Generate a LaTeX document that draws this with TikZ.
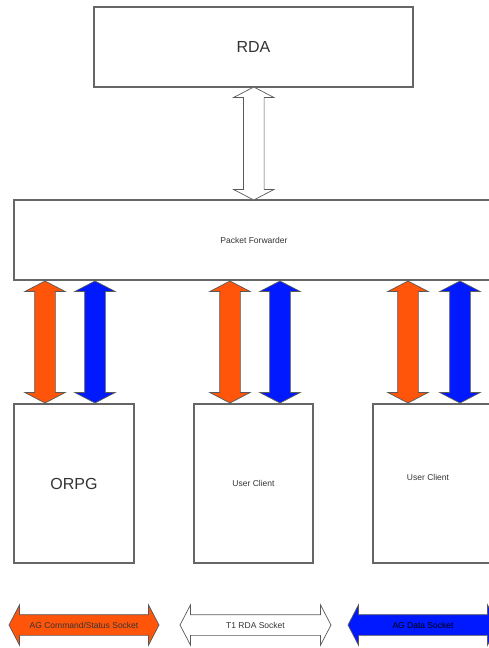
\documentclass[tikz,border=0pt]{standalone}
\usepackage{fontspec}
\setmainfont{Liberation Sans}
\usetikzlibrary{shapes.arrows,calc}

\definecolor{agorange}{RGB}{255,85,10}
\definecolor{agblue}{RGB}{0,25,255}

\tikzset{
  box/.style={draw=black!60, line width=1.2pt, fill=white, inner sep=0pt, text=black!80},
  bigtext/.style={font=\fontsize{16}{18}\selectfont},
  smalltext/.style={font=\fontsize{8.5}{10}\selectfont, text=black!80},
  sock/.style={double arrow, draw=black!65, line width=0.7pt, inner sep=0pt, inner ysep=10pt,
    minimum width=0pt, double arrow head extend=10pt, double arrow tip angle=125}
}

\begin{document}
\begin{tikzpicture}[x=1pt,y=-1pt]
\useasboundingbox (0,0) rectangle (489,648);
\clip (0,0) rectangle (489,648);

% RDA and forwarder
\node[box, bigtext, minimum width=319pt, minimum height=80pt] (rda) at (253.5,47) {RDA};
\node[box, smalltext, minimum width=480pt, minimum height=80pt] (pf) at (254,240) {Packet Forwarder};
\node[sock, fill=white, rotate=90, minimum height=113pt] (rdalink) at ($(rda.south)!0.5!(pf.north)$) {};

% Clients
\node[box, bigtext, minimum width=120pt, minimum height=159pt] (orpg) at (74,483.5) {ORPG};
\node[box, smalltext, minimum width=119pt, minimum height=159pt] (uca) at (253.5,483.5) {User Client};
\node[box, minimum width=120pt, minimum height=159pt] (ucb) at (433,483.5) {};
\node[smalltext] (ucbtext) at (428,477) {User Client};

% Sockets to the forwarder
\node[sock, fill=agorange, rotate=90, minimum height=122pt] (cmda) at (45,342) {};
\node[sock, fill=agblue, rotate=90, minimum height=122pt] (dataa) at (95,342) {};
\node[sock, fill=agorange, rotate=90, minimum height=122pt] (cmdb) at (230,342) {};
\node[sock, fill=agblue, rotate=90, minimum height=122pt] (datab) at (280,342) {};
\node[sock, fill=agorange, rotate=90, minimum height=122pt] (cmdc) at (408,342) {};
\node[sock, fill=agblue, rotate=90, minimum height=122pt] (datac) at (460,342) {};

% Key
\node[sock, fill=agorange, minimum height=150pt, label={[smalltext]center:AG Command/Status Socket}] (cmdkey) at (84,625) {};
\node[sock, fill=white, minimum height=151pt, label={[smalltext]center:T1 RDA Socket}] (rdakey) at (255.5,625) {};
\node[sock, fill=agblue, minimum height=150pt, label={[smalltext, text=black]center:AG Data Socket}] (datakey) at (423,625) {};
\end{tikzpicture}
\end{document}
